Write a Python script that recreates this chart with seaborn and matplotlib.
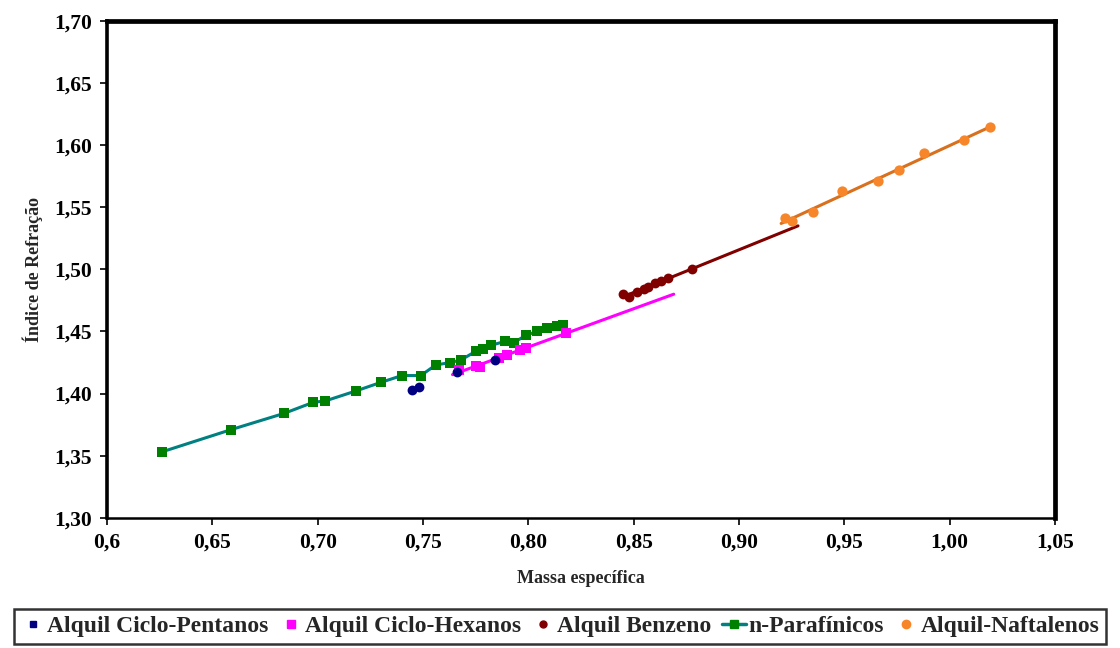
import numpy as np
import pandas as pd
import matplotlib
matplotlib.use("Agg")
import matplotlib.pyplot as plt
from matplotlib.lines import Line2D
from matplotlib.ticker import FixedLocator, FixedFormatter
import seaborn as sns

# Density (x) vs refractive index (y) for hydrocarbon families
pentanos_x = [0.745, 0.748, 0.766, 0.784]
pentanos_y = [1.403, 1.405, 1.417, 1.427]

hexanos_x = [0.767, 0.775, 0.777, 0.786, 0.790, 0.796, 0.799, 0.818]
hexanos_y = [1.419, 1.422, 1.421, 1.429, 1.431, 1.435, 1.437, 1.449]

benzeno_x = [0.845, 0.848, 0.8515, 0.855, 0.857, 0.860, 0.863, 0.8665, 0.8775]
benzeno_y = [1.480, 1.478, 1.482, 1.484, 1.486, 1.489, 1.491, 1.493, 1.500]

parafinicos_x = [0.626, 0.659, 0.684, 0.698, 0.7035, 0.718, 0.730, 0.740, 0.749,
                 0.756, 0.763, 0.768, 0.775, 0.7785, 0.7825, 0.789, 0.793, 0.799,
                 0.804, 0.809, 0.8135, 0.8166]
parafinicos_y = [1.353, 1.371, 1.384, 1.393, 1.394, 1.402, 1.409, 1.4145, 1.4145,
                 1.423, 1.425, 1.427, 1.434, 1.436, 1.439, 1.442, 1.441, 1.447,
                 1.450, 1.453, 1.4545, 1.455]

naftalenos_x = [0.922, 0.925, 0.935, 0.949, 0.966, 0.976, 0.988, 1.0066, 1.0193]
naftalenos_y = [1.541, 1.539, 1.546, 1.563, 1.571, 1.580, 1.5935, 1.604, 1.6144]

# x spans of the linear trend lines (extended forecast)
hexanos_trend = [0.764, 0.869]
benzeno_trend = [0.845, 0.928]
naftalenos_trend = [0.920, 1.020]

series_names = ["Alquil Ciclo-Pentanos", "Alquil Ciclo-Hexanos", "Alquil Benzeno",
                "n-Parafínicos", "Alquil-Naftalenos"]

x_ticks = [0.60, 0.65, 0.70, 0.75, 0.80, 0.85, 0.90, 0.95, 1.00, 1.05]
x_tick_labels = ["0,6", "0,65", "0,70", "0,75", "0,80", "0,85", "0,90", "0,95", "1,00", "1,05"]
y_ticks = [1.30, 1.35, 1.40, 1.45, 1.50, 1.55, 1.60, 1.65, 1.70]
y_tick_labels = ["1,30", "1,35", "1,40", "1,45", "1,50", "1,55", "1,60", "1,65", "1,70"]

sns.set_theme(style="white")
plt.rcParams["font.family"] = ["Liberation Serif", "DejaVu Serif"]
plt.rcParams["font.weight"] = "bold"

fig = plt.figure(figsize=(11.2, 6.48), dpi=100)
ax = fig.add_axes([0.0955, 0.201, 0.8465, 0.7666])

c_pent = "#000080"
c_hex = "#FF00FF"
c_benz = "#800000"
c_paraf_m = "#008000"
c_paraf_l = "#008080"
c_naft = "#F7862A"
c_naft_l = "#D8701E"


def trend(xs, ys, span):
    coef = np.polyfit(xs, ys, 1)
    tx = np.array(span)
    return pd.DataFrame({"x": tx, "y": np.polyval(coef, tx)})


# n-parafinicos: connected line with square markers
dpar = pd.DataFrame({"x": parafinicos_x, "y": parafinicos_y})
sns.lineplot(data=dpar, x="x", y="y", ax=ax, color=c_paraf_l, lw=2.2, sort=True, zorder=2)
sns.scatterplot(data=dpar, x="x", y="y", ax=ax, color=c_paraf_m, marker="s", s=60,
                edgecolor=c_paraf_m, linewidth=0, zorder=3)

# trend lines
for xs, ys, span, col in [(hexanos_x, hexanos_y, hexanos_trend, c_hex),
                          (benzeno_x, benzeno_y, benzeno_trend, c_benz),
                          (naftalenos_x, naftalenos_y, naftalenos_trend, c_naft_l)]:
    sns.lineplot(data=trend(xs, ys, span), x="x", y="y", ax=ax, color=col, lw=2.2, zorder=2)

sns.scatterplot(x=pentanos_x, y=pentanos_y, ax=ax, color=c_pent, marker="o", s=50,
                linewidth=0, zorder=4)
sns.scatterplot(x=hexanos_x, y=hexanos_y, ax=ax, color=c_hex, marker="s", s=45,
                linewidth=0, zorder=3)
sns.scatterplot(x=benzeno_x, y=benzeno_y, ax=ax, color=c_benz, marker="o", s=50,
                linewidth=0, zorder=3)
sns.scatterplot(x=naftalenos_x, y=naftalenos_y, ax=ax, color=c_naft, marker="o", s=55,
                linewidth=0, zorder=3)

ax.set_xlim(0.60, 1.05)
ax.set_ylim(1.30, 1.70)
ax.xaxis.set_major_locator(FixedLocator(x_ticks))
ax.xaxis.set_major_formatter(FixedFormatter(x_tick_labels))
ax.yaxis.set_major_locator(FixedLocator(y_ticks))
ax.yaxis.set_major_formatter(FixedFormatter(y_tick_labels))
ax.tick_params(axis="both", which="major", direction="out", length=5, width=1.2,
               colors="black", labelsize=15.5, pad=6, bottom=True, left=True)
for lab in ax.get_xticklabels() + ax.get_yticklabels():
    lab.set_fontweight("bold")

for side, w in [("left", 2.6), ("bottom", 1.8), ("top", 3.4), ("right", 3.4)]:
    ax.spines[side].set_visible(True)
    ax.spines[side].set_color("black")
    ax.spines[side].set_linewidth(w)

ax.set_xlabel("Massa específica", fontsize=13, fontweight="bold", labelpad=12)
ax.set_ylabel("Índice de Refração", fontsize=13, fontweight="bold", labelpad=8)
ax.grid(False)

handles = [
    Line2D([], [], color=c_pent, marker="s", markersize=5, ls="none"),
    Line2D([], [], color=c_hex, marker="s", markersize=6, ls="none"),
    Line2D([], [], color=c_benz, marker="o", markersize=5, ls="none"),
    Line2D([], [], color=c_paraf_l, marker="s", markersize=6, lw=2.5,
           markerfacecolor=c_paraf_m, markeredgecolor=c_paraf_m),
    Line2D([], [], color=c_naft, marker="o", markersize=6, ls="none"),
]
leg = fig.legend(handles, series_names, loc="lower center", bbox_to_anchor=(0.5, 0.0),
                 ncol=5, frameon=True, fancybox=False, borderpad=0.3, borderaxespad=0.15,
                 handlelength=1.0, handletextpad=0.1, columnspacing=0.45,
                 prop={"family": ["Liberation Serif"], "weight": "bold", "size": 17})
leg.get_frame().set_edgecolor("black")
leg.get_frame().set_linewidth(1.8)

fig.savefig("out.png", dpi=100, facecolor="white")
